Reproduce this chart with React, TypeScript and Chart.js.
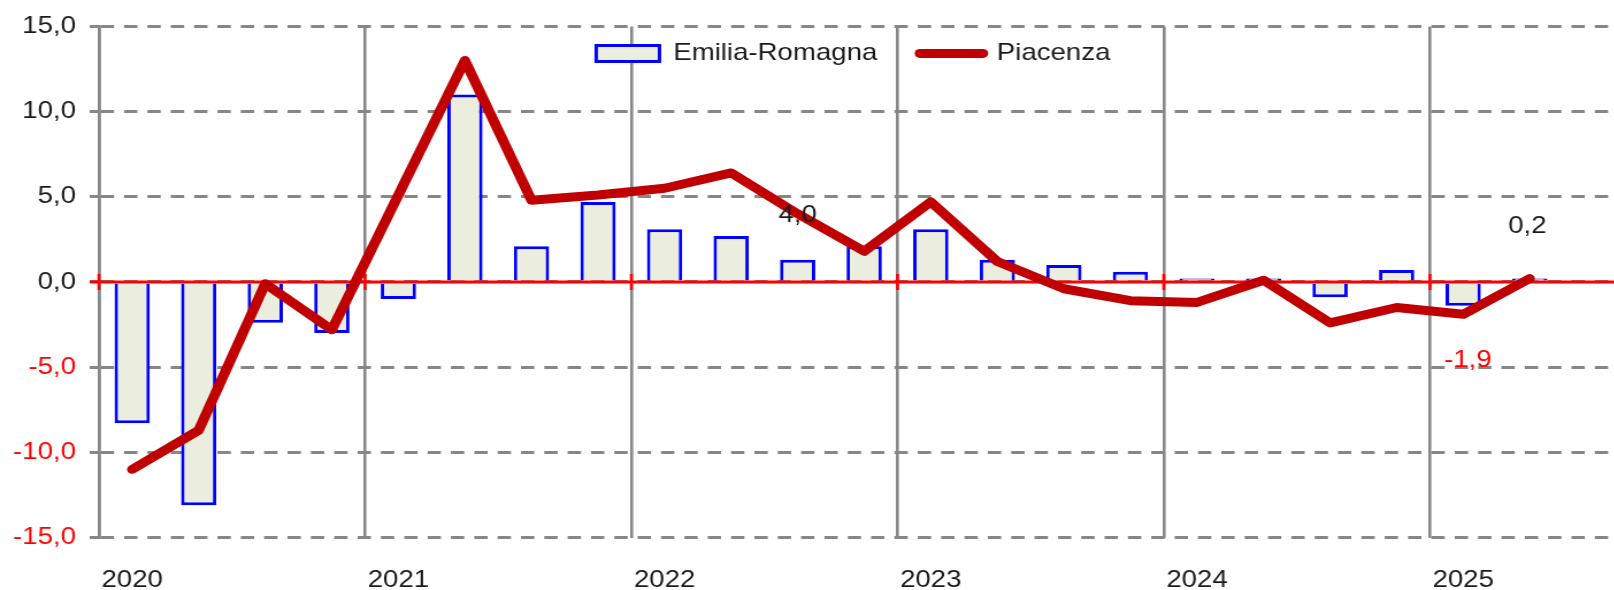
import { useEffect, useRef } from 'react';
import { Chart, registerables } from 'chart.js';

Chart.register(...registerables);

// ---- data ----
const quarters = [
  '2020 T1', '2020 T2', '2020 T3', '2020 T4',
  '2021 T1', '2021 T2', '2021 T3', '2021 T4',
  '2022 T1', '2022 T2', '2022 T3', '2022 T4',
  '2023 T1', '2023 T2', '2023 T3', '2023 T4',
  '2024 T1', '2024 T2', '2024 T3', '2024 T4',
  '2025 T1', '2025 T2',
];
const yearTickLabels = ['2020', '2021', '2022', '2023', '2024', '2025'];
const emiliaRomagna = [
  -8.3, -13.1, -2.4, -3.0,
  -1.0, 11.0, 2.1, 4.7,
  3.1, 2.7, 1.3, 2.1,
  3.1, 1.3, 1.0, 0.6,
  0.2, 0.2, -0.9, 0.7,
  -1.4, 0.2,
];
const piacenza = [
  -11.0, -8.7, -0.1, -2.8,
  5.1, 13.0, 4.8, 5.1,
  5.5, 6.4, 4.0, 1.8,
  4.7, 1.2, -0.4, -1.1,
  -1.2, 0.1, -2.4, -1.5,
  -1.9, 0.2,
];
const yTickValues = [-15, -10, -5, 0, 5, 10, 15];
const labelledPoints = [10, 20, 21];

// ---- style ----
const STRETCH = 1.15;
const FONT = "'Liberation Sans', Arial, sans-serif";
const TEXT = '#1a1a1a';
const GRID = '#878787';
const fmt = (v: number) => v.toFixed(1).replace('.', ',');

const legendFit = {
  id: 'legendFit',
  beforeLayout(chart: any) {
    const lg = chart.legend;
    if (lg && !lg._fitPatched) {
      const orig = lg.fit;
      lg.fit = function () {
        orig.call(this);
        this.height = 22;
      };
      lg._fitPatched = true;
    }
  },
  afterLayout(chart: any) {
    const lg = chart.legend;
    if (lg) {
      lg.height = 90;
      lg.bottom = lg.top + 90;
      lg.left -= 9.5;
      lg.right -= 9.5;
    }
  },
};

const zeroLine = {
  id: 'zeroLine',
  afterDatasetDraw(chart: any, args: any) {
    if (args.index !== 0) return;
    const { ctx, chartArea, scales } = chart;
    const y0 = scales.y.getPixelForValue(0);
    const xs = scales.x;
    ctx.save();
    ctx.strokeStyle = '#FF0000';
    ctx.lineWidth = 3;
    ctx.beginPath();
    ctx.moveTo(chartArea.left - 8, y0);
    ctx.lineTo(chartArea.right, y0);
    ctx.stroke();
    const half = (xs.getPixelForValue(1) - xs.getPixelForValue(0)) / 2;
    ctx.lineWidth = 2.6;
    for (let i = 0; i < xs.ticks.length; i += 4) {
      const bx = xs.getPixelForValue(i) - half;
      ctx.beginPath();
      ctx.moveTo(bx, y0 - 8);
      ctx.lineTo(bx, y0 + 8);
      ctx.stroke();
    }
    ctx.restore();
  },
};

const pointLabels = {
  id: 'pointLabels',
  afterDatasetsDraw(chart: any) {
    const { ctx } = chart;
    const meta = chart.getDatasetMeta(1);
    const offsets: Record<number, [number, number]> = {
      10: [0, 2],
      20: [4, 46],
      21: [-2, -52],
    };
    ctx.save();
    ctx.font = `24px ${FONT}`;
    ctx.textAlign = 'center';
    ctx.textBaseline = 'middle';
    labelledPoints.forEach((i) => {
      const pt = meta.data[i];
      if (!pt) return;
      const v = piacenza[i];
      const [dx, dy] = offsets[i] || [0, 0];
      ctx.fillStyle = v < 0 ? '#FF0000' : TEXT;
      ctx.fillText(fmt(v), pt.x + dx, pt.y + dy);
    });
    ctx.restore();
  },
};

export default function App() {
  const ref = useRef<HTMLCanvasElement | null>(null);

  useEffect(() => {
    if (!ref.current) return;
    Chart.defaults.font.family = FONT;
    const labels = [...quarters, ''];
    const chart = new Chart(ref.current, {
      type: 'bar',
      data: {
        labels,
        datasets: [
          {
            type: 'bar',
            label: 'Emilia-Romagna',
            data: emiliaRomagna,
            backgroundColor: '#EBEEDE',
            borderColor: '#0000FF',
            borderWidth: 3,
            barPercentage: 0.53,
            categoryPercentage: 1.0,
            order: 1,
          } as any,
          {
            type: 'line',
            label: 'Piacenza',
            data: piacenza,
            borderColor: '#C00000',
            backgroundColor: '#C00000',
            borderWidth: 9,
            borderCapStyle: 'round',
            borderJoinStyle: 'round',
            pointRadius: 0,
            tension: 0,
            order: 0,
          } as any,
        ],
      },
      options: {
        responsive: false,
        animation: false,
        devicePixelRatio: 1,
        events: [],
        layout: { padding: { top: 3, left: 0, right: 0, bottom: 0 } },
        plugins: {
          tooltip: { enabled: false },
          legend: {
            display: true,
            position: 'top',
            fullSize: false,
            labels: {
              font: { size: 24, family: FONT },
              color: TEXT,
              padding: 37,
              usePointStyle: true,
              pointStyleWidth: 55,
              boxHeight: 16,
              sort: (a: any, b: any) => a.datasetIndex - b.datasetIndex,
              generateLabels: (ch: any) => {
                const items = Chart.defaults.plugins.legend.labels.generateLabels(ch);
                return items.map((it: any) => {
                  if (it.datasetIndex === 0) {
                    return { ...it, pointStyle: 'rect', fillStyle: '#EBEEDE', strokeStyle: '#0000FF', lineWidth: 3, fontColor: TEXT };
                  }
                  return { ...it, pointStyle: 'line', fillStyle: '#C00000', strokeStyle: '#C00000', lineWidth: 9, lineCap: 'round', fontColor: TEXT };
                });
              },
            },
          },
        },
        scales: {
          x: {
            type: 'category',
            offset: true,
            afterFit: (s: any) => {
              s.height = 52.5;
            },
            grid: {
              offset: true,
              drawTicks: false,
              lineWidth: 2.6,
              color: (c: any) => (c.index % 4 === 0 ? GRID : 'rgba(0,0,0,0)'),
            },
            border: { display: false },
            ticks: {
              autoSkip: false,
              maxRotation: 0,
              minRotation: 0,
              padding: 28,
              color: TEXT,
              font: { size: 24, family: FONT },
              callback: (_v: any, i: number) => (i % 4 === 0 ? yearTickLabels[i / 4] ?? '' : ''),
            },
          },
          y: {
            type: 'linear',
            min: -15,
            max: 15,
            afterFit: (s: any) => {
              s.width = 86;
            },
            afterBuildTicks: (s: any) => {
              s.ticks = yTickValues.map((v) => ({ value: v }));
            },
            grid: {
              color: GRID,
              lineWidth: 3,
              drawTicks: true,
              tickLength: 8,
              tickWidth: 3,
              tickColor: GRID,
            },
            border: { display: true, color: GRID, width: 2.6, dash: [11.6, 8.7] },
            ticks: {
              padding: 12,
              font: { size: 24, family: FONT },
              color: (c: any) => (c.tick && c.tick.value < 0 ? '#FF0000' : TEXT),
              callback: (v: any) => fmt(Number(v)),
            },
          },
        },
      },
      plugins: [legendFit, zeroLine, pointLabels],
    } as any);
    return () => chart.destroy();
  }, []);

  return (
    <div style={{ position: 'absolute', left: 0, top: 0, width: 1614, height: 590, overflow: 'hidden', background: '#fff' }}>
      <canvas
        ref={ref}
        width={1417}
        height={590}
        style={{ display: 'block', transform: `scaleX(${STRETCH})`, transformOrigin: '0 0' }}
      />
    </div>
  );
}
